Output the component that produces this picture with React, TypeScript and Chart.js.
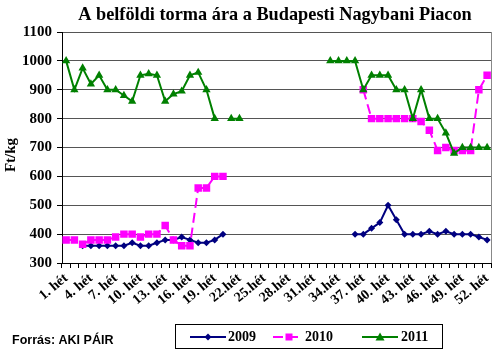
import React, { useEffect, useRef } from 'react';
import { Chart, registerables } from 'chart.js';

Chart.register(...registerables);

const weeks: string[] = [
  '1', '2', '3', '4', '5', '6', '7', '8', '9', '10', '11', '12', '13',
  '14', '15', '16', '17', '18', '19', '20', '21', '22', '23', '24', '25', '26',
  '27', '28', '29', '30', '31', '32', '33', '34', '35', '36', '37', '38', '39',
  '40', '41', '42', '43', '44', '45', '46', '47', '48', '49', '50', '51', '52',
];

const tickLabels: string[] = [
  '1. hét', '4. hét', '7. hét', '10. hét', '13. hét', '16. hét', '19. hét',
  '22.hét', '25.hét', '28.hét', '31.hét', '34.hét', '37. hét', '40. hét',
  '43. hét', '46. hét', '49. hét', '52. hét',
];

const N = null;

const s2009: (number | null)[] = [
  N, N, 360, 360, 360, 360, 360, 360, 370, 360, 360, 370, 380, 380, 390, 380, 370, 370, 380, 400,
  N, N, N, N, N, N, N, N, N, N, N, N, N, N, N,
  400, 400, 420, 440, 500, 450, 400, 400, 400, 410, 400, 410, 400, 400, 400, 390, 380,
];

const s2010: (number | null)[] = [
  380, 380, 365, 380, 380, 380, 390, 400, 400, 390, 400, 400, 430, 380, 360, 360, 560, 560, 600, 600,
  N, N, N, N, N, N, N, N, N, N, N, N, N, N, N, N,
  900, 800, 800, 800, 800, 800, 800, 790, 760, 690, 700, 690, 690, 690, 900, 950,
];

const s2011: (number | null)[] = [
  1000, 900, 975, 920, 950, 900, 900, 880, 860, 950, 955, 950, 860, 885, 895, 950, 960, 900, 800, N, 800, 800,
  N, N, N, N, N, N, N, N, N, N,
  1000, 1000, 1000, 1000, 900, 950, 950, 950, 900, 900, 800, 900, 800, 800, 750, 680, 700, 700, 700, 700,
];

const seriesNames = ['2009', '2010', '2011'];
const colors = ['#000080', '#FF00FF', '#008000'];

const titleText = 'A belföldi torma ára a Budapesti Nagybani Piacon';
const yTitle = 'Ft/kg';
const sourceText = 'Forrás: AKI PÁIR';

const SERIF = '"Liberation Serif", "Times New Roman", serif';
const SANS = '"Liberation Sans", Arial, sans-serif';

function drawDiamond(ctx: CanvasRenderingContext2D, x: number, y: number, r: number) {
  ctx.beginPath();
  ctx.moveTo(x, y - r);
  ctx.lineTo(x + r, y);
  ctx.lineTo(x, y + r);
  ctx.lineTo(x - r, y);
  ctx.closePath();
  ctx.fill();
}
function drawSquare(ctx: CanvasRenderingContext2D, x: number, y: number, s: number) {
  ctx.fillRect(x - s / 2, y - s / 2, s, s);
}
function drawTriangle(ctx: CanvasRenderingContext2D, x: number, y: number, r: number) {
  ctx.beginPath();
  ctx.moveTo(x, y - r);
  ctx.lineTo(x + r, y + r * 0.75);
  ctx.lineTo(x - r, y + r * 0.75);
  ctx.closePath();
  ctx.fill();
}

const decorPlugin = {
  id: 'decor',
  afterDraw(chart: any) {
    const ctx: CanvasRenderingContext2D = chart.ctx;
    const a = chart.chartArea;
    ctx.save();
    ctx.strokeStyle = '#888888';
    ctx.lineWidth = 1;
    ctx.beginPath();
    ctx.moveTo(Math.round(a.right) + 0.5, a.top);
    ctx.lineTo(Math.round(a.right) + 0.5, a.bottom);
    ctx.stroke();

    ctx.fillStyle = '#000';
    ctx.font = `bold 18.3px ${SERIF}`;
    ctx.textAlign = 'center';
    ctx.textBaseline = 'middle';
    ctx.fillText(titleText, 275, 15);

    ctx.save();
    ctx.translate(11, 155);
    ctx.rotate(-Math.PI / 2);
    ctx.font = `bold 15px ${SERIF}`;
    ctx.fillText(yTitle, 0, 0);
    ctx.restore();

    ctx.font = `bold 12.5px ${SANS}`;
    ctx.textAlign = 'left';
    ctx.fillText(sourceText, 12, 341);

    ctx.strokeStyle = '#000';
    ctx.lineWidth = 1;
    ctx.strokeRect(175.5, 324.5, 267, 24);
    const ly = 337;
    ctx.font = `bold 14px ${SERIF}`;
    ctx.textAlign = 'left';
    ctx.strokeStyle = colors[0];
    ctx.fillStyle = colors[0];
    ctx.lineWidth = 2;
    ctx.beginPath();
    ctx.moveTo(190, ly);
    ctx.lineTo(226, ly);
    ctx.stroke();
    drawDiamond(ctx, 208, ly, 3.5);
    ctx.fillStyle = '#000';
    ctx.fillText(seriesNames[0], 228, ly);
    ctx.strokeStyle = colors[1];
    ctx.fillStyle = colors[1];
    ctx.setLineDash([10, 5]);
    ctx.beginPath();
    ctx.moveTo(273, ly);
    ctx.lineTo(303, ly);
    ctx.stroke();
    ctx.setLineDash([]);
    drawSquare(ctx, 289, ly, 7);
    ctx.fillStyle = '#000';
    ctx.fillText(seriesNames[1], 305, ly);
    ctx.strokeStyle = colors[2];
    ctx.fillStyle = colors[2];
    ctx.beginPath();
    ctx.moveTo(362, ly);
    ctx.lineTo(398, ly);
    ctx.stroke();
    drawTriangle(ctx, 380, ly, 4.5);
    ctx.fillStyle = '#000';
    ctx.fillText(seriesNames[2], 401, ly);
    ctx.restore();
  },
};

export default function App() {
  const ref = useRef<HTMLCanvasElement | null>(null);
  useEffect(() => {
    if (!ref.current) return;
    const chart = new Chart(ref.current, {
      type: 'line',
      data: {
        labels: weeks,
        datasets: [
          {
            label: seriesNames[0],
            data: s2009,
            borderColor: colors[0],
            backgroundColor: colors[0],
            borderWidth: 2,
            pointStyle: 'rectRot',
            pointRadius: 3.5,
            pointBorderWidth: 0,
            spanGaps: false,
            tension: 0,
            order: 2,
          },
          {
            label: seriesNames[1],
            data: s2010,
            borderColor: colors[1],
            backgroundColor: colors[1],
            borderWidth: 2,
            borderDash: [10, 5],
            pointStyle: 'rect',
            pointRadius: 5.3,
            pointBorderWidth: 0,
            spanGaps: false,
            tension: 0,
            order: 1,
          },
          {
            label: seriesNames[2],
            data: s2011,
            borderColor: colors[2],
            backgroundColor: colors[2],
            borderWidth: 2,
            pointStyle: 'triangle',
            pointRadius: 4.8,
            pointBorderWidth: 0,
            spanGaps: false,
            tension: 0,
            order: 0,
          },
        ],
      },
      options: {
        responsive: false,
        animation: false,
        layout: { padding: { left: 0, right: 8, top: 32, bottom: 0 } },
        plugins: {
          legend: { display: false },
          title: { display: false },
          tooltip: { enabled: false },
        },
        scales: {
          x: {
            type: 'category',
            offset: true,
            afterFit: (scale: any) => {
              scale.height = 90;
            },
            grid: {
              display: true,
              drawOnChartArea: false,
              drawTicks: true,
              tickLength: 5,
              offset: true,
              tickColor: '#000',
            },
            border: { color: '#000', width: 1 },
            ticks: {
              autoSkip: false,
              minRotation: 40,
              maxRotation: 40,
              padding: 2,
              color: '#000',
              font: { family: SERIF, size: 14, weight: 'bold' },
              callback: (_v: any, i: number) => (i % 3 === 0 ? tickLabels[i / 3] : ''),
            },
          },
          y: {
            min: 300,
            max: 1100,
            afterFit: (scale: any) => {
              scale.width = 62;
            },
            grid: {
              color: '#555555',
              tickColor: '#000',
              tickLength: 5,
              drawTicks: true,
            },
            border: { color: '#000', width: 1 },
            ticks: {
              stepSize: 100,
              padding: 5,
              color: '#000',
              font: { family: SERIF, size: 15, weight: 'bold' },
              callback: (v: any) => String(v),
            },
          },
        },
      },
      plugins: [decorPlugin],
    } as any);
    return () => chart.destroy();
  }, []);
  return (
    <div style={{ position: 'absolute', left: 0, top: 0, width: 500, height: 353, background: '#fff' }}>
      <canvas ref={ref} width={500} height={353} />
    </div>
  );
}
